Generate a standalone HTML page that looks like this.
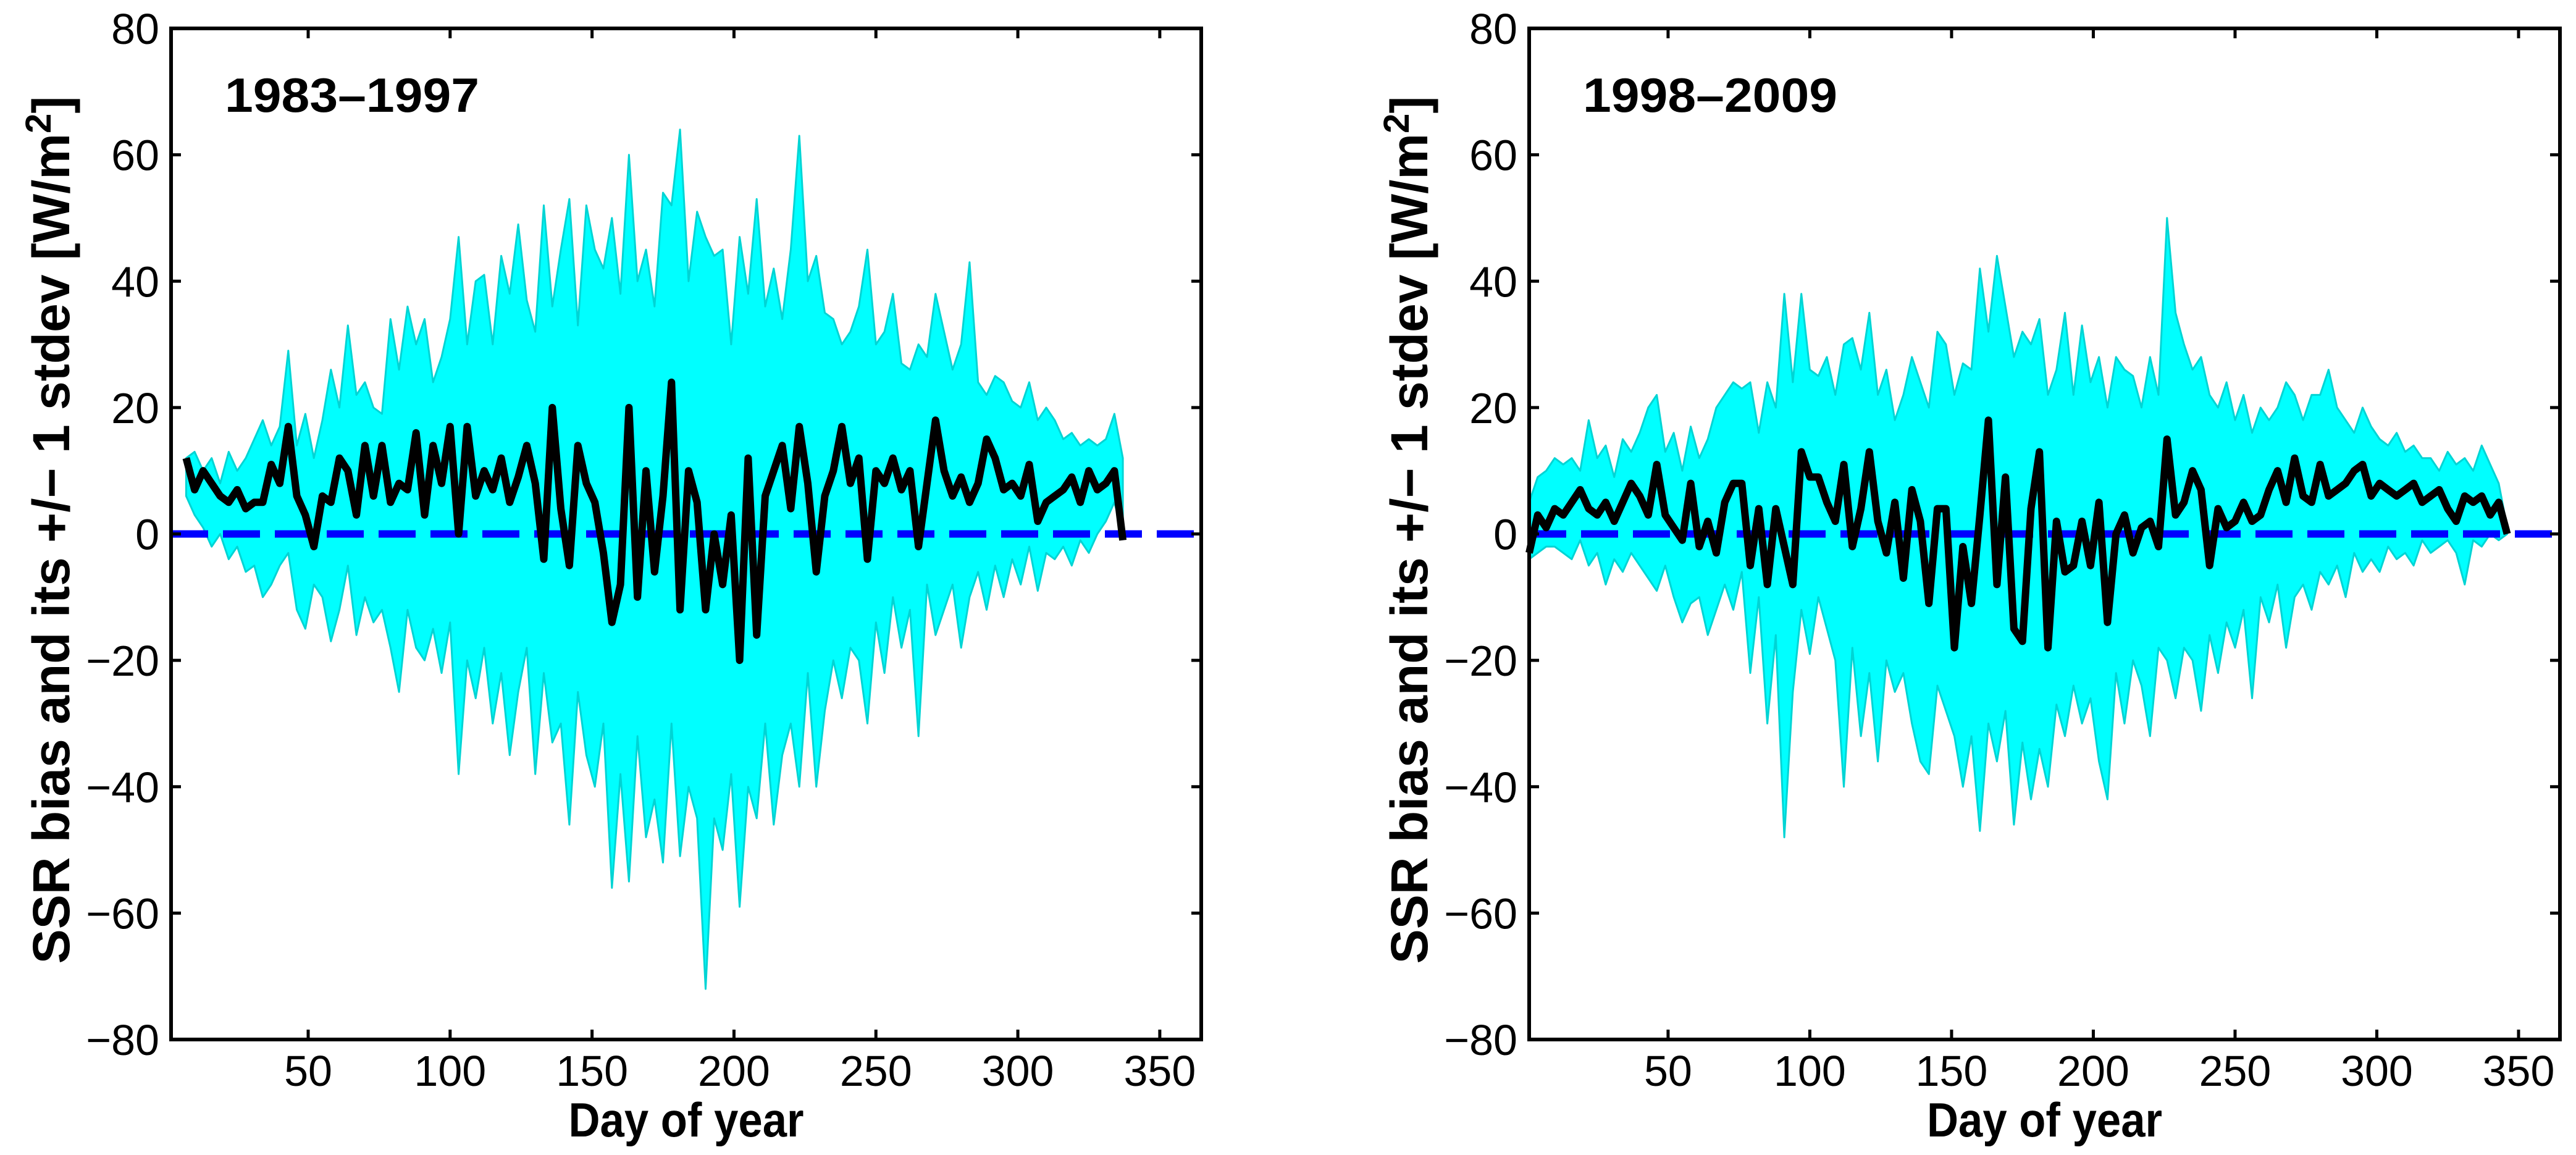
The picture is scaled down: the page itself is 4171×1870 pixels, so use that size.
<!DOCTYPE html>
<html><head><meta charset="utf-8"><style>
html,body{margin:0;padding:0;background:#fff;}
svg{display:block;}
text{font-family:"Liberation Sans",Arial,sans-serif;fill:#000;}
</style></head><body>
<svg id="fig" width="4171" height="1870" viewBox="0 0 4171 1870" xmlns="http://www.w3.org/2000/svg"></svg>
<script>
// ---- Panel 1 (1983-1997): days 7..337 step 3 ----
const p1Start = 7;
const p1Step = 3;
const p1Upper = [12,13,10,12,8,13,10,12,15,18,14,17,29,14,19,12,18,26,20,33,22,24,20,19,34,26,36,30,34,24,28,34,47,30,40,41,30,44,38,49,37,32,52,36,45,53,33,52,45,42,50,38,60,40,45,36,54,52,64,40,51,47,44,45,30,47,38,53,36,42,34,45,63,40,44,35,34,30,32,36,45,30,32,38,27,26,30,28,38,32,26,30,43,24,22,25,24,21,20,24,18,20,18,15,16,14,15,14,15,19,12];
const p1Mean = [12,7,10,8,6,5,7,4,5,5,11,8,17,6,3,-2,6,5,12,10,3,14,6,14,5,8,7,16,3,14,8,17,0,17,6,10,7,12,5,9,14,8,-4,20,4,-5,14,8,5,-3,-14,-8,20,-10,10,-6,6,24,-12,10,5,-12,0,-8,3,-20,12,-16,6,10,14,4,17,8,-6,6,10,17,8,12,-4,10,8,12,7,10,-2,8,18,10,6,9,5,8,15,12,7,8,6,11,2,5,6,7,9,5,10,7,8,10,-1];
const p1Lower = [6,3,1,-2,0,-4,-2,-6,-5,-10,-8,-5,-3,-12,-15,-8,-10,-17,-12,-5,-16,-10,-14,-12,-18,-25,-12,-18,-20,-15,-22,-14,-38,-20,-26,-18,-30,-22,-35,-25,-18,-38,-22,-33,-30,-46,-25,-35,-40,-30,-56,-38,-55,-32,-48,-42,-52,-30,-51,-40,-45,-72,-45,-50,-38,-59,-40,-45,-30,-46,-35,-30,-40,-22,-40,-28,-20,-26,-18,-20,-30,-14,-22,-10,-18,-12,-32,-8,-16,-12,-8,-18,-10,-6,-12,-5,-10,-4,-8,-2,-9,-3,-4,-2,-5,-1,-3,0,2,5,0];
// ---- Panel 2 (1998-2009): days 1..346 step 3 ----
const p2Start = 1;
const p2Step = 3;
const p2Upper = [5,9,10,12,11,12,10,18,12,14,9,15,13,16,20,22,13,16,10,17,12,15,20,22,24,23,24,16,24,20,38,24,38,26,25,28,22,30,31,26,35,22,26,18,22,28,24,20,32,30,22,27,26,42,32,44,36,28,32,30,34,22,26,35,22,33,24,28,20,28,26,25,20,28,22,50,35,30,26,28,22,20,24,18,22,16,20,18,20,24,22,18,22,22,26,20,18,16,20,17,15,14,16,13,14,12,12,10,13,11,12,10,14,11,8,1];
const p2Mean = [-3,3,1,4,3,5,7,4,3,5,2,5,8,6,3,11,3,1,-1,8,-2,2,-3,5,8,8,-5,4,-8,4,-2,-8,13,9,9,5,2,11,-2,4,13,2,-3,5,-7,7,2,-11,4,4,-18,-2,-11,3,18,-8,9,-15,-17,4,13,-18,2,-6,-5,2,-5,5,-14,0,3,-3,1,2,-2,15,3,5,10,7,-5,4,1,2,5,2,3,7,10,5,12,6,5,11,6,7,8,10,11,6,8,7,6,7,8,5,6,7,4,2,6,5,6,3,5,0];
const p2Lower = [-4,-3,-2,-2,-3,-4,-1,-5,-3,-8,-4,-6,-3,-5,-7,-9,-5,-10,-14,-11,-10,-16,-12,-8,-12,-6,-22,-10,-30,-16,-48,-25,-12,-19,-10,-15,-20,-40,-18,-32,-22,-36,-20,-25,-22,-30,-36,-38,-24,-28,-32,-40,-32,-47,-30,-36,-28,-46,-33,-42,-34,-40,-27,-32,-24,-30,-26,-36,-42,-22,-30,-20,-24,-32,-18,-20,-26,-18,-20,-28,-16,-22,-14,-18,-12,-26,-10,-14,-8,-18,-10,-8,-12,-6,-8,-5,-10,-3,-6,-4,-6,-2,-4,-3,-5,-1,-3,-2,-1,-3,-8,-1,-2,0,-1,0];
const xTicks = [50,100,150,200,250,300,350];
const yTicks = [-80,-60,-40,-20,0,20,40,60,80];

const NS = "http://www.w3.org/2000/svg";
const svg = document.getElementById('fig');
function mk(tag, attrs, parent){
  const e = document.createElementNS(NS, tag);
  for (const k in attrs) e.setAttribute(k, attrs[k]);
  (parent||svg).appendChild(e);
  return e;
}

function panel(cfg){
  const g = mk('g', {});
  
  
  const L=cfg.L, R=cfg.R, T=46, B=1683;
  const xs = d => L + (d - cfg.x0) / (cfg.x1 - cfg.x0) * (R - L);
  const ys = v => T + (80 - v) / 160 * (B - T);
  const n = Math.min(cfg.upper.length, cfg.lower.length);
  const day = i => cfg.start + i * cfg.step;
  let pts = [];
  for (let i=0;i<n;i++) pts.push(xs(day(i)).toFixed(1)+','+ys(cfg.upper[i]).toFixed(1));
  for (let i=n-1;i>=0;i--) pts.push(xs(day(i)).toFixed(1)+','+ys(cfg.lower[i]).toFixed(1));
  const band = mk('polygon', {points: pts.join(' '), fill:'#00ffff', stroke:'#00d4d4', 'stroke-width':3, 'stroke-linejoin':'round'}, g);
  
  
  const zl = mk('line', {x1:L, x2:R, y1:ys(0), y2:ys(0), stroke:'#0000ff', 'stroke-width':12, 'stroke-dasharray':'60 24'}, g);
  
  
  let mp = [];
  for (let i=0;i<cfg.mean.length;i++) mp.push(xs(day(i)).toFixed(1)+','+ys(cfg.mean[i]).toFixed(1));
  const ml = mk('polyline', {points: mp.join(' '), fill:'none', stroke:'#000', 'stroke-width':12, 'stroke-linejoin':'round'}, g);
  
  
  const box = mk('rect', {x:L, y:T, width:R-L, height:B-T, fill:'none', stroke:'#000', 'stroke-width':6}, g);
  
  
  xTicks.forEach(t=>{
    const x = xs(t);
    mk('line',{x1:x,x2:x,y1:B,y2:B-16,stroke:'#000','stroke-width':5},g);
    mk('line',{x1:x,x2:x,y1:T,y2:T+16,stroke:'#000','stroke-width':5},g);
    const tx = mk('text',{x:x,y:1758,'font-size':70,'text-anchor':'middle'},g);
    tx.textContent = t;
    
    
  });
  yTicks.forEach(t=>{
    const y = ys(t);
    mk('line',{x1:L,x2:L+16,y1:y,y2:y,stroke:'#000','stroke-width':5},g);
    mk('line',{x1:R,x2:R-16,y1:y,y2:y,stroke:'#000','stroke-width':5},g);
    const tx = mk('text',{x:L-19,y:y+25,'font-size':70,'text-anchor':'end'},g);
    tx.textContent = t<0 ? '\u2212'+(-t) : t;
    
    
  });
  const title = mk('text',{x:L+87,y:181,'font-size':78,'font-weight':'bold',textLength:412,lengthAdjust:'spacingAndGlyphs'},g);
  title.textContent = cfg.title;
  
  
  const xl = mk('text',{x:(L+R)/2,y:1840,'font-size':78,'font-weight':'bold','text-anchor':'middle',textLength:381,lengthAdjust:'spacingAndGlyphs'},g);
  xl.textContent = 'Day of year';
  
  
  const yl = mk('text',{x:0,y:0,'font-size':84,'font-weight':'bold','text-anchor':'middle',transform:`translate(${L-165},858) rotate(-90)`},g);
  yl.innerHTML = 'SSR bias and its +/\u2212 1 stdev [W/m<tspan dy="-30" font-size="58">2</tspan><tspan dy="30">]</tspan>';
  
  
}

panel({name:'panel-1983-1997', title:'1983\u20131997', L:277, R:1945, x0:1.7, x1:364.6, start:p1Start, step:p1Step, upper:p1Upper, mean:p1Mean, lower:p1Lower});
panel({name:'panel-1998-2009', title:'1998\u20132009', L:2476, R:4145, x0:1.0, x1:364.6, start:p2Start, step:p2Step, upper:p2Upper, mean:p2Mean, lower:p2Lower});
</script>
</body></html>
